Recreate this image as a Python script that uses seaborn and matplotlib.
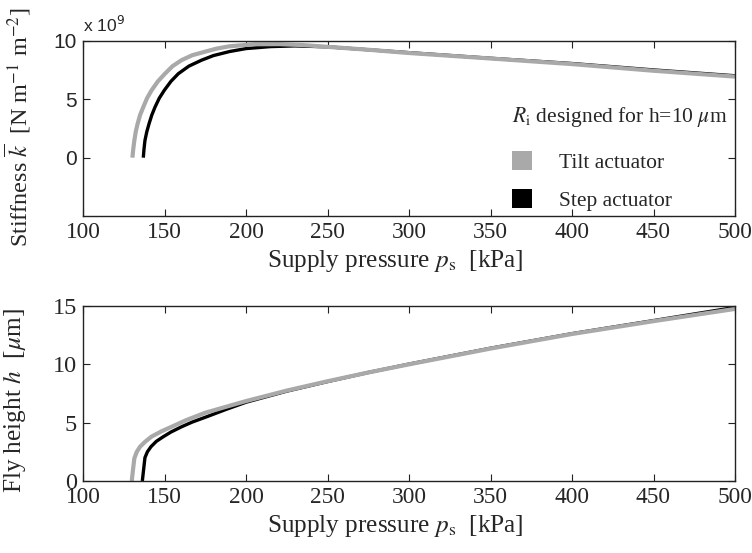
import numpy as np
import pandas as pd
import matplotlib
matplotlib.use("Agg")
import matplotlib.pyplot as plt
import matplotlib.patches as mpatches
import seaborn as sns

# ---------------- data ----------------
# Stiffness (x 1e9 N m^-1 m^-2) vs supply pressure (kPa)
tilt_k_p = [130.3, 130.8, 131.5, 132.4, 133.5, 135, 137, 139.3, 142.1, 146, 150.3, 155, 160.5, 167, 174.8, 182, 190, 205, 220, 235, 250, 275, 300, 350, 400, 450, 500]
tilt_k = [0.0, 0.7, 1.47, 2.25, 2.9, 3.65, 4.34, 5.1, 5.78, 6.55, 7.2, 7.85, 8.36, 8.78, 9.08, 9.35, 9.55, 9.72, 9.73, 9.65, 9.5, 9.25, 8.97, 8.5, 8.02, 7.45, 6.95]
step_k_p = [137, 137.4, 138, 139.1, 140.5, 142.2, 144.2, 146.8, 149.9, 154, 158.5, 165, 172.8, 180, 190, 200, 215, 230, 250, 275, 300, 350, 400, 450, 500]
step_k = [0.0, 0.7, 1.47, 2.2, 2.9, 3.65, 4.34, 5.1, 5.78, 6.55, 7.2, 7.85, 8.36, 8.75, 9.1, 9.35, 9.52, 9.58, 9.5, 9.25, 9.0, 8.52, 8.07, 7.52, 7.02]

# Fly height (um) vs supply pressure (kPa)
tilt_h_p = [129.9, 130.7, 131.5, 133, 135, 138, 142, 148, 154.4, 163, 175, 200, 225, 250, 275, 300, 350, 400, 450, 500]
tilt_h = [0.0, 1.0, 1.94, 2.5, 2.94, 3.35, 3.8, 4.25, 4.65, 5.2, 5.85, 6.85, 7.75, 8.55, 9.3, 10.0, 11.35, 12.6, 13.7, 14.75]
step_h_p = [136.4, 137.2, 138, 139.5, 141.7, 145, 149.3, 154, 160.5, 167, 176.7, 188, 200, 225, 250, 275, 300, 350, 400, 450, 500]
step_h = [0.0, 1.0, 2.0, 2.5, 2.94, 3.4, 3.8, 4.2, 4.65, 5.05, 5.55, 6.15, 6.75, 7.7, 8.52, 9.3, 10.02, 11.38, 12.63, 13.75, 14.88]

series_names = ["Tilt actuator", "Step actuator"]
legend_title = "$R_\\mathrm{i}$ designed for h=10 $\\mu$m"
x_ticks = [100, 150, 200, 250, 300, 350, 400, 450, 500]
k_ticks = [0, 5, 10]
h_ticks = [0, 5, 10, 15]

# ---------------- style ----------------
sns.set_style("ticks")
plt.rcParams["font.family"] = ["Liberation Serif", "DejaVu Serif"]
plt.rcParams["mathtext.fontset"] = "stix"
plt.rcParams["xtick.direction"] = "in"
plt.rcParams["ytick.direction"] = "in"

GRAY = "#a9a9a9"
BLACK = "#000000"
LABEL_FS = 18.2

fig = plt.figure(figsize=(7.52, 5.53), dpi=100)
W, H = 752, 553
ax1 = fig.add_axes([83 / W, 1 - 216 / H, 652 / W, 175 / H])
ax2 = fig.add_axes([83 / W, 1 - 481 / H, 652 / W, 175 / H])

df_k = pd.concat([
    pd.DataFrame({"p": step_k_p, "v": step_k, "s": series_names[1]}),
    pd.DataFrame({"p": tilt_k_p, "v": tilt_k, "s": series_names[0]}),
])
df_h = pd.concat([
    pd.DataFrame({"p": step_h_p, "v": step_h, "s": series_names[1]}),
    pd.DataFrame({"p": tilt_h_p, "v": tilt_h, "s": series_names[0]}),
])

for ax, df in [(ax1, df_k), (ax2, df_h)]:
    for name, col, lw in [(series_names[1], BLACK, 2.4), (series_names[0], GRAY, 3.0)]:
        sub = df[df["s"] == name]
        sns.lineplot(data=sub, x="p", y="v", ax=ax, color=col, lw=lw,
                     sort=False, estimator=None, legend=False,
                     solid_capstyle="butt", solid_joinstyle="round")

for ax in (ax1, ax2):
    ax.set_xlim(100, 500)
    ax.set_xticks(x_ticks)
    ax.set_xticklabels([str(t) for t in x_ticks], fontsize=16.8)
    ax.tick_params(axis="both", which="both", direction="in", top=True, right=True,
                   length=5, width=0.8, pad=4.5, color="#222222")
    for sp in ax.spines.values():
        sp.set_visible(True)
        sp.set_linewidth(1.0)
        sp.set_color("#222222")
    ax.set_xlabel("Supply pressure $p_\\mathrm{s}$  [kPa]", fontsize=LABEL_FS)
    ax.xaxis.set_label_coords(0.479, -0.183)

ax1.set_ylim(-5, 10)
ax1.set_yticks(k_ticks)
ax1.set_yticklabels([str(t) for t in k_ticks], family=["Liberation Sans"], fontsize=15)
ax1.set_ylabel("Stiffness $\\overline{k}$  [N m$^{-1}$ m$^{-2}$]", fontsize=17.4)
ax1.yaxis.set_label_coords(-0.077, 0.505)
ax1.text(0.0, 1.051, "x 10$^9$", transform=ax1.transAxes, ha="left", va="baseline",
         family=["Liberation Sans"], fontsize=12.6, math_fontfamily="dejavusans")

ax2.set_ylim(0, 15)
ax2.set_yticks(h_ticks)
ax2.set_yticklabels([str(t) for t in h_ticks], fontsize=17.5)
ax2.set_ylabel("Fly height $h$  [$\\mu$m]", fontsize=LABEL_FS)
ax2.yaxis.set_label_coords(-0.085, 0.457)

# legend (title placed as its own text)
ax1.text(0.658, 0.539, legend_title, transform=ax1.transAxes, ha="left", va="baseline",
         fontsize=15.5)
handles = [mpatches.Patch(facecolor=GRAY, edgecolor="none", label=series_names[0]),
           mpatches.Patch(facecolor=BLACK, edgecolor="none", label=series_names[1])]
ax1.legend(handles=handles, loc="center left", bbox_to_anchor=(0.658, 0.200),
           frameon=False, fontsize=15.5, handlelength=0.93, handleheight=0.96,
           labelspacing=0.78, handletextpad=1.24, borderaxespad=0, borderpad=0)

fig.savefig("out.png", dpi=100)
